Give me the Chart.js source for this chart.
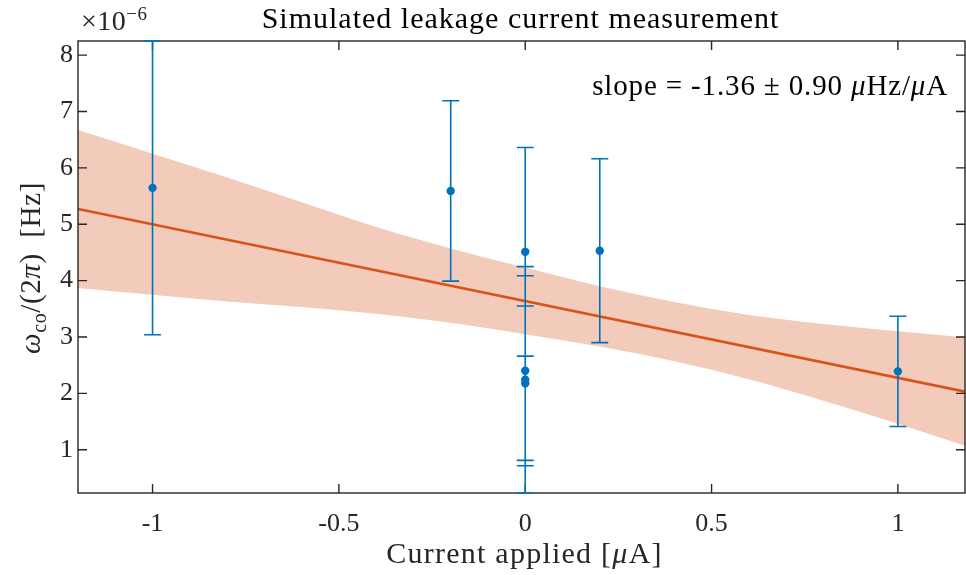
<!DOCTYPE html>
<html><head><meta charset="utf-8">
<script src="https://cdn.jsdelivr.net/npm/chart.js@4"></script>
<style>html,body{margin:0;padding:0;background:#fff;overflow:hidden}#wrap{width:966px;height:575px;position:relative}canvas{display:block}</style>
</head><body><div id="wrap"><canvas id="c" width="966" height="575" style="width:966px;height:575px"></canvas></div>
<script>
// ---- data (values in units of 1e-6 Hz / microampere) ----
const currentApplied = [-1, -0.2, 0, 0, 0, 0, 0.2, 1];
const omegaCo = [5.645, 5.59, 4.51, 2.40, 2.24, 2.18, 4.53, 2.39];
const omegaErr = [2.605, 1.60, 1.85, 1.685, 2.008, 1.37, 1.63, 0.978];
const fitX = [-1.2, 1.18];
const fitY = [5.27, 2.03];
const bandX = [-1.2, -1.0, -0.8, -0.6, -0.4, -0.2, 0, 0.2, 0.4, 0.6, 0.8, 1.0, 1.18];
const bandUpper = [6.67, 6.25, 5.83, 5.39, 4.95, 4.57, 4.23, 3.90, 3.62, 3.39, 3.23, 3.10, 2.99];
const bandLower = [3.87, 3.75, 3.63, 3.53, 3.41, 3.25, 3.05, 2.83, 2.57, 2.25, 1.87, 1.46, 1.07];
const xTicks = [-1, -0.5, 0, 0.5, 1];
const xTickLabels = ['-1', '-0.5', '0', '0.5', '1'];
const yTicks = [1, 2, 3, 4, 5, 6, 7, 8];
const yTickLabels = ['1', '2', '3', '4', '5', '6', '7', '8'];
const xRange = [-1.2, 1.18];
const yRange = [0.232, 8.25];
const titleText = 'Simulated leakage current measurement';
const slopeText = 'slope = -1.36 \u00b1 0.90 ';

const FAM = '"Liberation Serif", "Times New Roman", serif';
const AXC = '#262626';
const BLUE = '#0072BD';
const ORANGE = '#D95319';

function drawRuns(ctx, runs, x, y, align, sp) {
  ctx.letterSpacing = (sp || 0) + 'px';
  let total = 0;
  runs.forEach(r => { ctx.font = r[1]; total += ctx.measureText(r[0]).width; });
  let cx = align === 'center' ? x - total / 2 : align === 'right' ? x - total : x;
  runs.forEach(r => { ctx.font = r[1]; ctx.fillText(r[0], cx, y + (r[2] || 0)); cx += ctx.measureText(r[0]).width; });
  ctx.letterSpacing = '0px';
}

const decor = {
  id: 'decor',
  afterDatasetsDraw(chart) {
    const ctx = chart.ctx, a = chart.chartArea, xs = chart.scales.x, ys = chart.scales.y;
    ctx.save();
    ctx.strokeStyle = AXC; ctx.lineWidth = 1.4;
    ctx.strokeRect(a.left, a.top, a.right - a.left, a.bottom - a.top);
    ctx.beginPath();
    xTicks.forEach(v => { const p = xs.getPixelForValue(v);
      ctx.moveTo(p, a.bottom); ctx.lineTo(p, a.bottom - 9);
      ctx.moveTo(p, a.top); ctx.lineTo(p, a.top + 9); });
    yTicks.forEach(v => { const p = ys.getPixelForValue(v);
      ctx.moveTo(a.left, p); ctx.lineTo(a.left + 9, p);
      ctx.moveTo(a.right, p); ctx.lineTo(a.right - 9, p); });
    ctx.stroke();
    ctx.beginPath(); ctx.rect(a.left - 1, a.top - 2, a.right - a.left + 2, a.bottom - a.top + 4); ctx.clip();
    ctx.strokeStyle = BLUE; ctx.lineWidth = 1.6;
    ctx.beginPath();
    currentApplied.forEach((xv, i) => {
      const px = xs.getPixelForValue(xv);
      const hi = ys.getPixelForValue(omegaCo[i] + omegaErr[i]);
      const lo = ys.getPixelForValue(omegaCo[i] - omegaErr[i]);
      ctx.moveTo(px, hi); ctx.lineTo(px, lo);
      ctx.moveTo(px - 8.5, hi); ctx.lineTo(px + 8.5, hi);
      ctx.moveTo(px - 8.5, lo); ctx.lineTo(px + 8.5, lo);
    });
    ctx.stroke();
    ctx.restore();
  },
  afterDraw(chart) {
    const ctx = chart.ctx, a = chart.chartArea;
    const cxp = (a.left + a.right) / 2;
    ctx.save();
    ctx.fillStyle = '#000'; ctx.textBaseline = 'alphabetic'; ctx.textAlign = 'left';
    drawRuns(ctx, [[titleText, '30px ' + FAM]], cxp - 1, 28, 'center', 1);
    ctx.fillStyle = AXC;
    drawRuns(ctx, [['Current applied [', '30px ' + FAM], ['\u03bc', 'italic 30px ' + FAM], ['A]', '30px ' + FAM]], cxp + 3, 563, 'center', 1.25);
    ctx.save();
    ctx.translate(40, 268); ctx.rotate(-Math.PI / 2);
    drawRuns(ctx, [['\u03c9', 'italic 29px ' + FAM], ['co', '20px ' + FAM, 6], ['/(2', '29px ' + FAM], ['\u03c0', 'italic 29px ' + FAM], [')  [Hz]', '29px ' + FAM]], 0, 0, 'center', 0.6);
    ctx.restore();
    drawRuns(ctx, [['\u00d710', '28px ' + FAM], ['\u22126', '19px ' + FAM, -10]], 81, 30, 'left', 0.5);
    ctx.fillStyle = '#000';
    drawRuns(ctx, [[slopeText, '29px ' + FAM], ['\u03bc', 'italic 29px ' + FAM], ['Hz/', '29px ' + FAM], ['\u03bc', 'italic 29px ' + FAM], ['A', '29px ' + FAM]], 948, 95, 'right', 0.85);
    ctx.restore();
  }
};

const chart = new Chart(document.getElementById('c'), {
  type: 'scatter',
  data: {
    datasets: [
      { data: bandX.map((x, i) => ({ x, y: bandUpper[i] })), showLine: true, borderWidth: 0, pointRadius: 0,
        cubicInterpolationMode: 'monotone',
        fill: '+1', backgroundColor: 'rgb(243,203,186)', borderColor: 'rgba(0,0,0,0)', order: 3 },
      { data: bandX.map((x, i) => ({ x, y: bandLower[i] })), showLine: true, borderWidth: 0, pointRadius: 0,
        cubicInterpolationMode: 'monotone',
        fill: false, borderColor: 'rgba(0,0,0,0)', order: 3 },
      { data: fitX.map((x, i) => ({ x, y: fitY[i] })), showLine: true, borderWidth: 2.6, pointRadius: 0,
        borderColor: ORANGE, fill: false, order: 2 },
      { data: currentApplied.map((x, i) => ({ x, y: omegaCo[i] })), showLine: false, pointRadius: 4.2,
        pointBackgroundColor: BLUE, pointBorderWidth: 0, borderColor: BLUE, order: 1 }
    ]
  },
  options: {
    responsive: false, animation: false, devicePixelRatio: 1,
    layout: { autoPadding: false, padding: { top: 41, right: 1, left: 0, bottom: 0 } },
    plugins: { legend: { display: false }, tooltip: { enabled: false }, title: { display: false } },
    scales: {
      x: {
        type: 'linear', min: xRange[0], max: xRange[1],
        grid: { display: false, drawTicks: false }, border: { display: false },
        afterBuildTicks: s => { s.ticks = xTicks.map(v => ({ value: v })); },
        afterFit: s => { s.height = 82; s.paddingLeft = 0; s.paddingRight = 0; },
        ticks: { padding: 16, color: AXC, font: { family: FAM, size: 26 },
          callback: (v) => { const i = xTicks.indexOf(v); return i >= 0 ? xTickLabels[i] : ''; } }
      },
      y: {
        type: 'linear', min: yRange[0], max: yRange[1],
        grid: { display: false, drawTicks: false }, border: { display: false },
        afterBuildTicks: s => { s.ticks = yTicks.map(v => ({ value: v })); },
        afterFit: s => { s.width = 78; s.paddingTop = 0; s.paddingBottom = 0; },
        ticks: { padding: 5, color: AXC, font: { family: FAM, size: 26 },
          callback: (v) => { const i = yTicks.indexOf(v); return i >= 0 ? yTickLabels[i] : ''; } }
      }
    }
  },
  plugins: [decor]
});
</script>
</body></html>
